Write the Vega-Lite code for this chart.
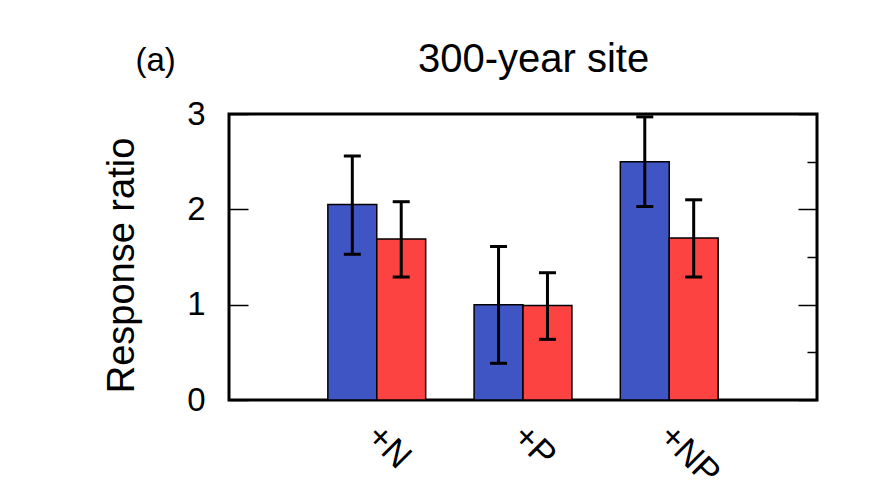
{
  "$schema": "https://vega.github.io/schema/vega-lite/v6.json",
  "width": 588,
  "height": 286,
  "autosize": {"type": "none"},
  "padding": {"left": 229, "top": 114, "right": 68, "bottom": 102},
  "background": "white",
  "config": {
    "font": "Liberation Sans",
    "view": {"stroke": "black", "strokeWidth": 3},
    "axis": {"domain": false, "grid": false, "labelColor": "black", "titleColor": "black", "tickColor": "black"}
  },
  "data": {
    "values": [
      {"group": "+N", "series": "A", "value": 2.05, "lo": 1.53, "hi": 2.56},
      {"group": "+N", "series": "B", "value": 1.69, "lo": 1.29, "hi": 2.08},
      {"group": "+P", "series": "A", "value": 1.0, "lo": 0.385, "hi": 1.61},
      {"group": "+P", "series": "B", "value": 0.99, "lo": 0.636, "hi": 1.335},
      {"group": "+NP", "series": "A", "value": 2.5, "lo": 2.03, "hi": 2.97},
      {"group": "+NP", "series": "B", "value": 1.7, "lo": 1.29, "hi": 2.1}
    ]
  },
  "encoding": {
    "x": {
      "field": "group",
      "type": "nominal",
      "sort": ["+N", "+P", "+NP"],
      "scale": {"paddingInner": 0.331, "paddingOuter": 0.676},
      "axis": null
    },
    "xOffset": {"field": "series", "type": "nominal", "scale": {"paddingInner": 0, "paddingOuter": 0}}
  },
  "layer": [
    {
      "mark": {"type": "bar", "stroke": "black", "strokeWidth": 1.5},
      "encoding": {
        "x": {
          "field": "group",
          "type": "nominal",
          "sort": ["+N", "+P", "+NP"],
          "axis": {"orient": "bottom", "title": null, "ticks": false, "labelAngle": 45, "labelAlign": "left", "labelBaseline": "top", "labelFontSize": 35, "labelPadding": 18, "labelOffset": 8}
        },
        "y": {
          "field": "value",
          "type": "quantitative",
          "scale": {"domain": [0, 3], "nice": false},
          "axis": {
            "orient": "left",
            "title": "Response ratio",
            "titleFontSize": 38,
            "titleFontWeight": "normal",
            "titlePadding": 45,
            "titleY": 151,
            "values": [0, 0.5, 1, 1.5, 2, 2.5, 3],
            "format": "d",
            "labelExpr": "datum.value % 1 === 0 ? datum.label : ''",
            "labelFontSize": 33,
            "labelPadding": 43,
            "tickWidth": 1.5,
            "tickSize": {"condition": {"test": "datum.value % 1 === 0", "value": -19}, "value": -10}
          }
        },
        "color": {
          "field": "series",
          "type": "nominal",
          "scale": {"domain": ["A", "B"], "range": ["#3f55c4", "#fd4242"]},
          "legend": null
        }
      }
    },
    {
      "mark": {"type": "rule", "strokeWidth": 3, "color": "black"},
      "encoding": {
        "x": {
          "field": "group",
          "type": "nominal",
          "sort": ["+N", "+P", "+NP"],
          "axis": {"orient": "top", "labels": false, "ticks": false, "title": "300-year site", "titleFontSize": 40, "titleFontWeight": "normal", "titleX": 304, "titleY": -43, "titleAlign": "center", "titleBaseline": "alphabetic"}
        },
        "y": {
          "field": "lo",
          "type": "quantitative",
          "scale": {"domain": [0, 3], "nice": false},
          "axis": {
            "orient": "right",
            "title": "(a)",
            "titleFontSize": 33,
            "titleFontWeight": "normal",
            "titleAngle": 0,
            "titleX": -682,
            "titleY": -44,
            "titleAlign": "left",
            "titleBaseline": "alphabetic",
            "labels": false,
            "values": [0, 0.5, 1, 1.5, 2, 2.5, 3],
            "tickWidth": 1.5,
            "tickSize": {"condition": {"test": "datum.value % 1 === 0", "value": -19}, "value": -10}
          }
        },
        "y2": {"field": "hi"}
      }
    },
    {
      "mark": {"type": "tick", "thickness": 3, "size": 17, "color": "black", "opacity": 1},
      "encoding": {
        "y": {"field": "hi", "type": "quantitative", "scale": {"domain": [0, 3], "nice": false}, "axis": null}
      }
    },
    {
      "mark": {"type": "tick", "thickness": 3, "size": 17, "color": "black", "opacity": 1},
      "encoding": {
        "y": {"field": "lo", "type": "quantitative", "scale": {"domain": [0, 3], "nice": false}, "axis": null}
      }
    }
  ]
}
